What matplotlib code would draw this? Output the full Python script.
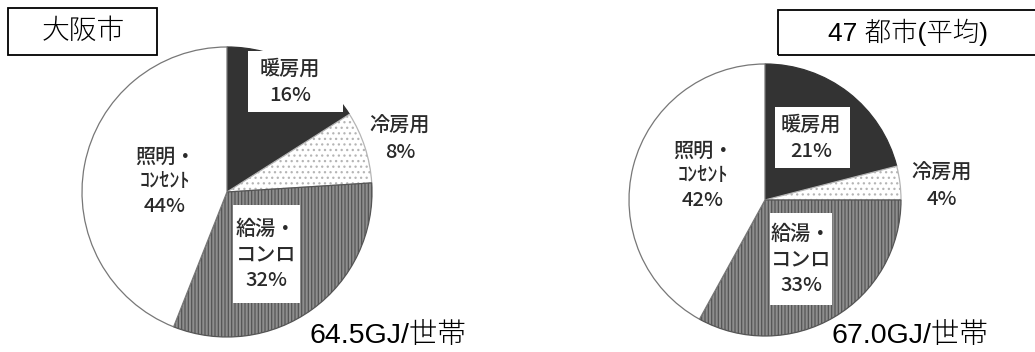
import matplotlib
matplotlib.use("Agg")
import matplotlib.pyplot as plt
from matplotlib.patches import Rectangle

# ---- data ----
categories = ['暖房用', '冷房用', '給湯・\nコンロ', '照明・\nｺﾝｾﾝﾄ']
osaka_share = [16, 8, 32, 44]
avg_share = [21, 4, 33, 42]
titles = ['大阪市', '47 都市(平均)']
totals = [64.5, 67.0]
total_unit = 'GJ/世帯'

W, H = 1035, 352
plt.rcParams['hatch.linewidth'] = 0.9

fig = plt.figure(figsize=(W / 100, H / 100), dpi=100)
ax = fig.add_axes([0, 0, 1, 1])

face = ['#333333', 'white', '#8e8e8e', 'white']
edge = ['#333333', '#b5b5b5', '#555555', '#777777']
hatches = [None, '...', '|||||', None]

lab_font = ['Noto Sans CJK JP', 'DejaVu Sans']
ttl_font = ['Liberation Sans', 'Noto Sans CJK JP']


def draw_pie(vals, cx, cy, r):
    wedges, _ = ax.pie(vals, center=(cx, H - cy), radius=r, startangle=90,
                       counterclock=False, colors=face,
                       wedgeprops=dict(linewidth=0.9))
    for w, ec, h in zip(wedges, edge, hatches):
        w.set_edgecolor(ec)
        if h:
            w.set_hatch(h)
    return wedges


def box(x0, y0, x1, y1):
    ax.add_patch(Rectangle((x0, H - y1), x1 - x0, y1 - y0, facecolor='white',
                           edgecolor='none', zorder=3))


def label(x, y, txt, size=14.5, ls=1.5):
    ax.text(x, H - y, txt, ha='center', va='center', fontsize=size,
            family=lab_font, color='#2a2a2a', linespacing=ls, zorder=4,
            fontweight='medium')


# ---- Osaka ----
draw_pie(osaka_share, 227, 192, 145)
box(248, 51, 343, 112)
label(290, 82, f"{categories[0]}\n{osaka_share[0]}%")
label(400, 139, f"{categories[1]}\n{osaka_share[1]}%")
box(233, 205, 300, 303)
label(266, 255, f"{categories[2]}\n{osaka_share[2]}%", ls=1.45)
label(165, 182, f"{categories[3]}\n{osaka_share[3]}%", ls=1.4)

# ---- 47 cities ----
draw_pie(avg_share, 765, 200, 136)
box(775, 107, 850, 168)
label(811, 138, f"{categories[0]}\n{avg_share[0]}%")
label(942, 186, f"{categories[1]}\n{avg_share[1]}%")
box(770, 213, 832, 305)
label(801, 260, f"{categories[2]}\n{avg_share[2]}%", ls=1.45)
label(703, 176, f"{categories[3]}\n{avg_share[3]}%", ls=1.4)

# ---- title boxes ----
ax.add_patch(Rectangle((8, H - 55), 149, 47, fill=False, edgecolor='black', lw=1.3))
ax.add_patch(Rectangle((778, H - 55), 262, 45, fill=False, edgecolor='black', lw=1.3,
                       clip_on=False))
ax.text(83, H - 32, titles[0], ha='center', va='center', fontsize=20,
        family=ttl_font, color='black', fontweight='light')
ax.text(908, H - 32, titles[1], ha='center', va='center', fontsize=19,
        family=ttl_font, color='black', fontweight='light')

# ---- totals ----
ax.text(388, H - 336, f"{totals[0]:.1f}{total_unit}", ha='center', va='center',
        fontsize=20.5, family=ttl_font, color='black', fontweight='light')
ax.text(910, H - 336, f"{totals[1]:.1f}{total_unit}", ha='center', va='center',
        fontsize=20.5, family=ttl_font, color='black', fontweight='light')

ax.set_xlim(0, W)
ax.set_ylim(0, H)
ax.set_aspect('equal')
ax.axis('off')

fig.savefig('out.png', dpi=100)
